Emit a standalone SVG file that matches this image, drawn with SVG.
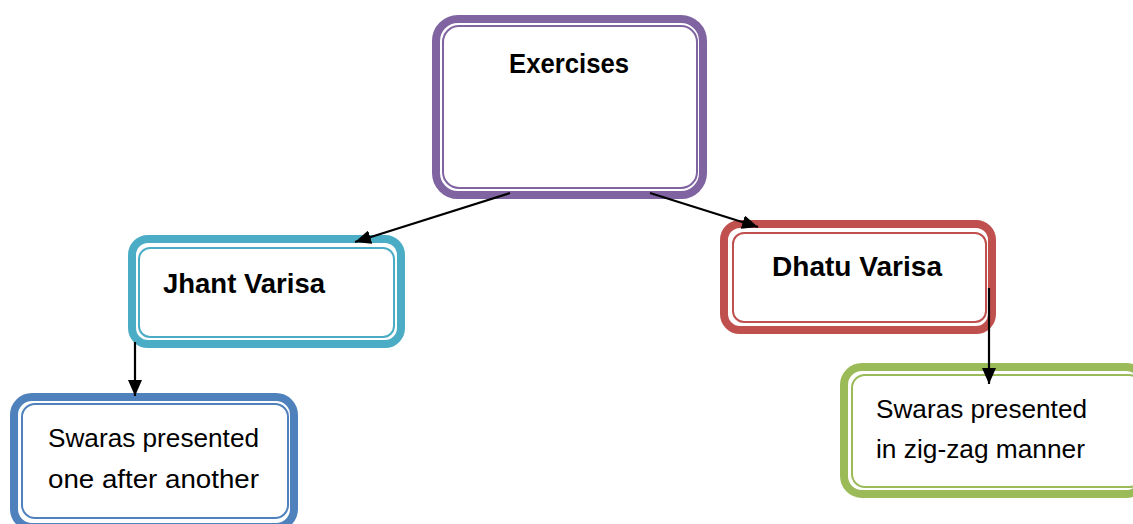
<svg xmlns="http://www.w3.org/2000/svg" width="1133" height="524" viewBox="0 0 1133 524">
  <defs>
    <marker id="arr" viewBox="0 0 16 14" refX="16" refY="7" markerWidth="16" markerHeight="14" markerUnits="userSpaceOnUse" orient="auto">
      <path d="M0,0 L16,7 L0,14 Z" fill="#000"/>
    </marker>
    <style>
      .outer { fill: #fff; stroke-width: 8; }
      .inner { fill: none; stroke-width: 2; }
      .bold { font-family: "Liberation Sans", Arial, sans-serif; font-weight: bold; font-size: 27px; fill: #000; }
      .reg { font-family: "Liberation Sans", Arial, sans-serif; font-size: 26px; fill: #000; }
      .conn { stroke: #000; stroke-width: 2.2; fill: none; marker-end: url(#arr); }
    </style>
  </defs>

  <g id="exercises">
    <rect class="outer" x="436" y="19" width="267" height="176" rx="22" stroke="#8064A2"/>
    <rect class="inner" x="443" y="26" width="254" height="162" rx="16" stroke="#8064A2"/>
    <text class="bold" x="509" y="73" textLength="120" lengthAdjust="spacingAndGlyphs">Exercises</text>
  </g>

  <g id="jhant">
    <rect class="outer" x="132" y="239" width="269" height="105" rx="16" stroke="#4BACC6"/>
    <rect class="inner" x="139" y="248" width="255" height="89" rx="11" stroke="#4BACC6"/>
    <text class="bold" x="163" y="293" textLength="162" lengthAdjust="spacingAndGlyphs">Jhant Varisa</text>
  </g>

  <g id="dhatu">
    <rect class="outer" x="724" y="224" width="268" height="106" rx="16" stroke="#C0504D"/>
    <rect class="inner" x="733" y="233" width="253" height="89" rx="11" stroke="#C0504D"/>
    <text class="bold" x="772" y="276" textLength="170" lengthAdjust="spacingAndGlyphs">Dhatu Varisa</text>
  </g>

  <g id="swaras-one">
    <rect class="outer" x="14" y="397" width="280" height="130" rx="18" stroke="#4F81BD"/>
    <rect class="inner" x="22" y="404" width="266" height="114" rx="13" stroke="#4F81BD"/>
    <text class="reg" x="48" y="447" textLength="211" lengthAdjust="spacingAndGlyphs">Swaras presented</text>
    <text class="reg" x="48" y="488" textLength="211" lengthAdjust="spacingAndGlyphs">one after another</text>
  </g>

  <g id="swaras-zigzag">
    <rect class="outer" x="844" y="367" width="300" height="127" rx="18" stroke="#9BBB59"/>
    <rect class="inner" x="852" y="375" width="290" height="112" rx="13" stroke="#9BBB59"/>
    <text class="reg" x="876" y="418" textLength="211" lengthAdjust="spacingAndGlyphs">Swaras presented</text>
    <text class="reg" x="876" y="458" textLength="209" lengthAdjust="spacingAndGlyphs">in zig-zag manner</text>
  </g>

  <g id="connectors">
    <line class="conn" x1="510" y1="193" x2="355" y2="242"/>
    <line class="conn" x1="650" y1="193" x2="758" y2="227"/>
    <line class="conn" x1="135" y1="342" x2="135" y2="396"/>
    <line class="conn" x1="989" y1="288" x2="989" y2="384"/>
  </g>
</svg>
